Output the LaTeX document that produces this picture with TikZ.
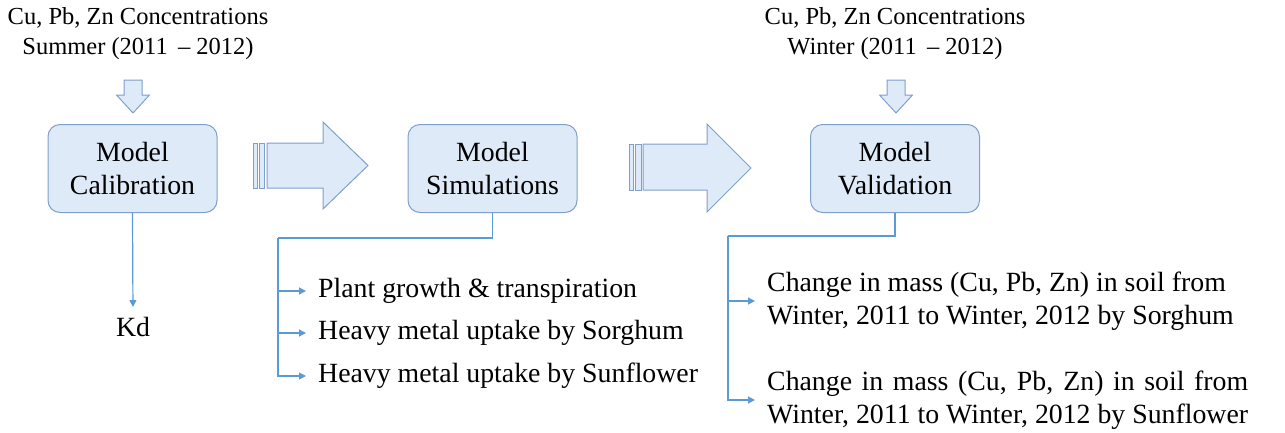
\documentclass[tikz,border=0pt]{standalone}
\usepackage{fontspec}
\setmainfont{Liberation Serif}
\usetikzlibrary{arrows.meta}

\definecolor{boxfill}{RGB}{222,234,247}
\definecolor{boxline}{RGB}{128,160,204}
\definecolor{linkblue}{RGB}{91,155,213}

\newlength{\sunwd}

\tikzset{
  modelbox/.style={draw=boxline, fill=boxfill, line width=1pt, rounded corners=12pt,
    minimum width=169pt, minimum height=88pt, align=center,
    font=\fontsize{27.8}{33}\selectfont},
  blockarrow/.style={draw=boxline, fill=boxfill, line width=1pt, line join=miter},
  toptext/.style={align=center, font=\fontsize{24.5}{30}\selectfont, inner sep=0pt},
  itemtext/.style={anchor=west, align=left, inner sep=0pt,
    font=\fontsize{27.8}{33}\selectfont},
  link/.style={draw=linkblue, line width=1.2pt, -{Triangle[width=7pt,length=7pt]}},
  busline/.style={draw=linkblue, line width=1.2pt}
}

\begin{document}
\begin{tikzpicture}[x=1pt, y=-1pt]
      \useasboundingbox (0,0) rectangle (1285,432);

      \node [modelbox] (calib) at (132.5, 168.5) {Model\\Calibration};
      \node [modelbox] (simul) at (492.5, 168.5) {Model\\Simulations};
      \node [modelbox] (valid) at (895, 168.5) {Model\\Validation};

      \node [toptext] (summer) at (138, 34) {Cu, Pb, Zn Concentrations\\Summer (2011 \,-- 2012)};
      \node [toptext] (winter) at (895, 34) {Cu, Pb, Zn Concentrations\\Winter (2011 \,-- 2012)};

      % small down arrows
      \draw [blockarrow] (124,80) -- (142,80) -- (142,95) -- (149.5,95) -- (133,113)
            -- (116.5,95) -- (124,95) -- cycle;
      \draw [blockarrow] (887,80) -- (905,80) -- (905,95) -- (912.5,95) -- (896,113)
            -- (879.5,95) -- (887,95) -- cycle;

      % big striped arrows
      \draw [blockarrow] (253,143) rectangle (257,188);
      \draw [blockarrow] (259,143) rectangle (264,188);
      \draw [blockarrow] (267,143) -- (323,143) -- (323,122) -- (368,165.5) -- (323,209)
            -- (323,188) -- (267,188) -- cycle;
      \draw [blockarrow] (629,144) rectangle (633,190);
      \draw [blockarrow] (635,144) rectangle (641,190);
      \draw [blockarrow] (643,144) -- (707,144) -- (707,124) -- (751,168) -- (707,212)
            -- (707,190) -- (643,190) -- cycle;

      % calibration result
      \node [font=\fontsize{27.8}{33}\selectfont, inner sep=2pt] (kd) at (133, 327) {Kd};
      \draw [link, shorten >=8pt] (calib.south) -- (kd.north);

      % simulation outputs
      \node [itemtext] (plant) at (318, 291) {Plant growth \& transpiration};
      \node [itemtext] (sorghum) at (318, 333) {Heavy metal uptake by Sorghum};
      \node [itemtext] (sunflower) at (318, 376) {Heavy metal uptake by Sunflower};

      \coordinate (simbus) at (278, 238);
      \draw [busline] (simul.south) |- (simbus);
      \draw [link, shorten >=12pt] (simbus) |- (plant.west);
      \draw [link, shorten >=12pt] (simbus) |- (sorghum.west);
      \draw [link, shorten >=12pt] (simbus) |- (sunflower.west);

      % validation outputs
      \node [itemtext] (massA) at (767, 301)
            {Change in mass (Cu, Pb, Zn) in soil from\\Winter, 2011 to Winter, 2012 by Sorghum};
      \node [itemtext] (massB) at (767, 400)
            {\settowidth{\sunwd}{Winter, 2011 to Winter, 2012 by Sunflower}%
             \makebox[\sunwd][s]{Change in mass (Cu, Pb, Zn) in soil from}\\Winter, 2011 to Winter, 2012 by Sunflower};

      \coordinate (valbus) at (728, 236);
      \draw [busline] (valid.south) |- (valbus);
      \draw [link, shorten >=12pt] (valbus) |- (massA.west);
      \draw [link, shorten >=12pt] (valbus) |- (massB.west);

\end{tikzpicture}
\end{document}
